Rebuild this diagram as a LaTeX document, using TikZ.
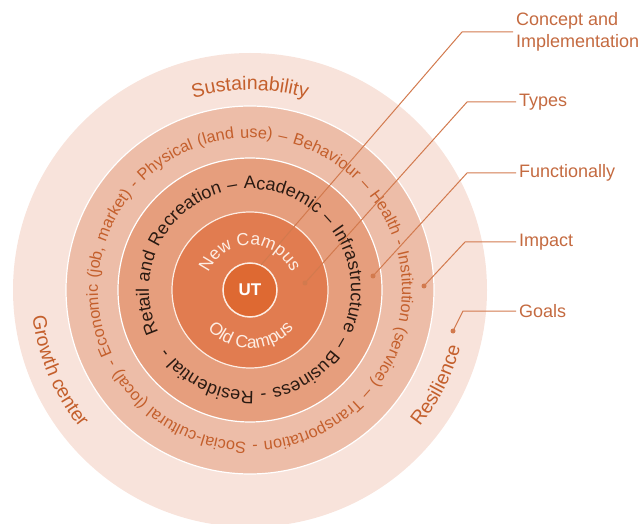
\documentclass[tikz,border=0pt]{standalone}
\usepackage{fontspec}
\setmainfont{Liberation Sans}
\usetikzlibrary{decorations.text}

\definecolor{ringA}{HTML}{F8E3DB}
\definecolor{ringB}{HTML}{EDBDA8}
\definecolor{ringC}{HTML}{E69E7D}
\definecolor{ringD}{HTML}{E17C50}
\definecolor{core}{HTML}{DE6932}
\definecolor{rust}{HTML}{C45F2C}
\definecolor{tagc}{HTML}{C46A40}
\definecolor{leaderc}{HTML}{D27A4E}
\definecolor{cream}{HTML}{FDEDE3}
\definecolor{ink}{HTML}{2A1A12}

\newcommand{\goalfont}{\fontsize{19.5}{23}\selectfont}
\newcommand{\bandfont}{\fontsize{16.3}{20}\selectfont}
\newcommand{\sectorfont}{\fontsize{18}{22}\selectfont}
\newcommand{\campusfont}{\fontsize{17.5}{21}\selectfont}
\newcommand{\tagfont}{\fontsize{18}{22}\selectfont}

\begin{document}
\begin{tikzpicture}[x=1pt, y=1pt,
        ring/.style={fill=#1, draw=white, line width=1.2pt},
        leader/.style={draw=leaderc, line width=1pt},
        tag/.style={anchor=west, inner sep=3pt, text=tagc, font=\tagfont, align=left},
        fulltext/.style={decorate, decoration={text along path,
            text align={fit to path stretching spaces}, text={#1}}},
        arctext/.style={decorate, decoration={text along path,
            text align=center, text={#1}}}]
        \useasboundingbox (0,0) rectangle (643,523);

        \coordinate (c) at (250,233);

        % rings, outside in
        \fill[ringA] (c) circle (237);
        \draw[ring=ringB] (c) circle (184);
        \draw[ring=ringC] (c) circle (132);
        \draw[ring=ringD, draw=cream] (c) circle (78);

        % goals band
        \path[arctext={|\goalfont\color{rust}|Sustainability}]
            (c) ++(170:200) arc[start angle=170, end angle=10, radius=200];
        \path[arctext={|\goalfont\color{rust}|Growth center}]
            (c) ++(173:219) arc[start angle=173, end angle=233, radius=219];
        \path[arctext={|\goalfont\color{rust}|Resilience}]
            (c) ++(-57:218) arc[start angle=-57, end angle=3, radius=218];

        % impact band
        \path[fulltext={|\bandfont\color{rust}|Economic (job, market) - Physical (land use) – Behaviour – Health - Institution (service) – Transportation - Social-cultural (local) -}]
            (c) ++(205:152) arc[start angle=205, end angle=-153, radius=152];

        % functional band
        \path[fulltext={|\sectorfont\color{ink}|Retail and Recreation – Academic – Infrastructure – Business - Residential -}]
            (c) ++(205:101) arc[start angle=205, end angle=-145, radius=101];

        % campus types
        \path[arctext={|\campusfont\color{cream}|New Campus}]
            (c) ++(180:45) arc[start angle=180, end angle=0, radius=45];
        \path[arctext={|\campusfont\color{cream}|Old Campus}]
            (c) ++(191:58) arc[start angle=191, end angle=351, radius=58];

        \node[circle, fill=core, draw=cream, line width=1.5pt, minimum size=54pt,
            inner sep=0pt, text=white, font=\bfseries\fontsize{17}{20}\selectfont] (ut) at (c) {UT};

        % labels on the right
        \node[tag] (concept) at (513,491) {Concept and\\Implementation};
        \node[tag] (types) at (516,421) {Types};
        \node[tag] (func) at (516,350) {Functionally};
        \node[tag] (impact) at (516,281) {Impact};
        \node[tag] (goals) at (516,212) {Goals};

        \coordinate (conceptbend) at (462,491);
        \coordinate (typesbend) at (467,421);
        \coordinate (funcbend) at (467,350);
        \coordinate (impactbend) at (465,281);
        \coordinate (goalsbend) at (463,212);

        \coordinate (conceptend) at (261,258);
        \coordinate (typesdot) at (305,240);
        \coordinate (funcdot) at (373,247);
        \coordinate (impactdot) at (424,237);
        \coordinate (goalsdot) at (453,192);

        \draw[leader] (concept.west) -- (conceptbend) -- (conceptend);
        \draw[leader] (types.west) -- (typesbend) -- (typesdot);
        \draw[leader] (func.west) -- (funcbend) -- (funcdot);
        \draw[leader] (impact.west) -- (impactbend) -- (impactdot);
        \draw[leader] (goals.west) -- (goalsbend) -- (goalsdot);

        \fill[leaderc] (typesdot) circle (2.5);
        \fill[leaderc] (funcdot) circle (2.5);
        \fill[leaderc] (impactdot) circle (2.5);
        \fill[leaderc] (goalsdot) circle (2.5);
\end{tikzpicture}
\end{document}
